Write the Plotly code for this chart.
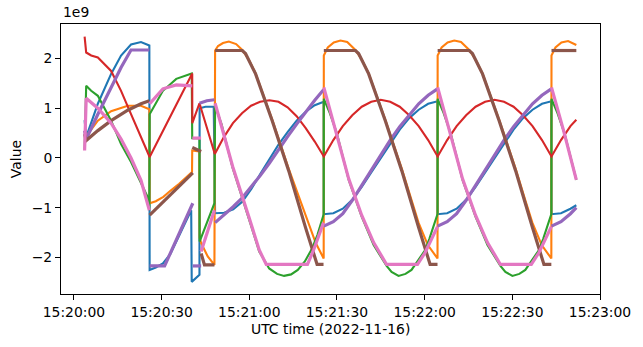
from datetime import datetime, timedelta
import plotly.graph_objects as go

# Sample times are seconds after 15:20:00 UTC; values are in units of 1e9.
# None marks a break in a trace.
BASE = datetime(2022, 11, 16, 15, 20, 0)

blue_t = [3.65, 4.19, 8.18, 12.72, 16.12, 19.53, 22.94, 25.8, 25.9, 28.0, 30.44, 33.0, 36.5, 40.12, 40.3, 42.95, 43.0, 45.0, 47.83, 48.3,
          51.4, 54.5, 57.6, 60.7, 63.8, 66.9, 70.0, 73.1, 76.2, 79.3, 82.4, 85.45,
          85.5, 88.75, 91.99, 95.24, 98.48, 101.73, 104.98, 108.22, 111.47, 114.71, 117.96, 121.2, 124.4,
          124.45, 127.7, 130.94, 134.19, 137.43, 140.68, 143.93, 147.17, 150.42, 153.66, 156.91, 160.15, 163.35,
          163.4, 166.65, 169.89, 171.9]
blue_v = [0.76, 0.42, 1.09, 1.69, 2.06, 2.28, 2.33, 2.26, -2.25, -2.20, -2.12, -1.93, -1.50, -1.05, -2.49, -2.35, 1.00, 1.03, 1.03, -1.11,
          -1.10, -1.03, -0.88, -0.62, -0.32, -0.02, 0.27, 0.52, 0.75, 0.93, 1.06, 1.13,
          -1.13, -1.11, -1.02, -0.84, -0.58, -0.29, 0.00, 0.30, 0.57, 0.80, 0.97, 1.09, 1.14,
          -1.13, -1.11, -1.02, -0.84, -0.58, -0.29, 0.00, 0.30, 0.57, 0.80, 0.97, 1.09, 1.14,
          -1.13, -1.11, -1.02, -0.95]

orange_t = [4.19, 4.77, 8.18, 12.72, 18.41, 22.94, 25.8, 25.9, 28.0, 30.6, 33.0, 36.0, 40.4, 40.47, 42.9, 43.0, 43.53, 45.78, 48.07, 48.3,
            49.3, 51.0, 53.0, 55.5, 57.6, 59.9, 62.15, 67.84, 73.5, 77.05, 79.33, 82.74, 85.45,
            85.5, 86.86, 88.91, 91.19, 93.5, 96.31, 98.55, 100.84, 106.53, 112.2, 115.5, 117.9, 121.1, 124.4,
            124.45, 125.81, 127.86, 130.14, 132.45, 135.26, 137.5, 139.79, 145.48, 151.15, 154.45, 156.85, 160.05, 163.35,
            163.4, 164.76, 166.81, 169.09, 171.9]
orange_v = [0.38, 0.48, 0.75, 0.94, 1.05, 1.05, 0.98, -0.91, -0.87, -0.78, -0.66, -0.52, -0.28, 0.15, 0.13, -1.60, -1.71, -1.98, -2.15, 2.16,
            2.25, 2.31, 2.34, 2.29, 2.17, 1.97, 1.70, 0.77, -0.22, -0.80, -1.18, -1.71, -2.02,
            2.06, 2.22, 2.32, 2.36, 2.33, 2.17, 1.97, 1.70, 0.77, -0.22, -0.85, -1.30, -1.75, -2.02,
            2.06, 2.22, 2.32, 2.36, 2.33, 2.17, 1.97, 1.70, 0.77, -0.22, -0.85, -1.30, -1.75, -2.02,
            2.06, 2.22, 2.32, 2.35, 2.27]

green_t = [3.65, 4.19, 5.9, 8.18, 12.72, 16.12, 19.53, 22.94, 25.2, 25.8, 25.9, 30.44, 35.01, 40.3, 40.47, 42.95, 43.0, 48.07, 48.3,
           50.5, 54.3, 60.0, 63.4, 66.8, 69.5, 71.9, 74.3, 76.6, 79.0, 81.3, 83.3, 85.45,
           85.5, 87.55, 89.93, 94.02, 98.45, 102.55, 106.98, 108.68, 111.07, 113.45, 115.5, 117.89, 120.17, 121.64, 123.0, 124.4,
           124.45, 126.5, 128.88, 132.97, 137.4, 141.5, 145.93, 147.63, 150.02, 152.4, 154.45, 156.84, 159.12, 160.59, 161.95, 163.35,
           163.4, 165.45, 167.83, 171.9]
green_v = [0.18, 1.45, 1.35, 1.25, 0.75, 0.28, -0.08, -0.51, -0.78, -1.05, 0.88, 1.35, 1.59, 1.70, 0.40, 0.40, -1.68, -0.91, 1.05,
           0.68, -0.20, -1.25, -1.88, -2.22, -2.33, -2.37, -2.34, -2.25, -2.08, -1.84, -1.55, -1.13,
           1.19, 0.90, 0.50, -0.44, -1.18, -1.75, -2.17, -2.29, -2.37, -2.33, -2.25, -2.05, -1.85, -1.62, -1.40, -1.13,
           1.19, 0.90, 0.50, -0.44, -1.18, -1.75, -2.17, -2.29, -2.37, -2.33, -2.25, -2.05, -1.85, -1.62, -1.40, -1.13,
           1.19, 0.90, 0.50, -0.44]

red_t = [3.65, 4.19, 5.9, 8.18, 12.72, 16.12, 19.53, 22.94, 25.9, 40.47, 40.5, 42.95, 48.2,
         51.3, 54.4, 57.5, 60.6, 63.7, 66.9, 70.0, 73.1, 76.2, 79.3, 82.4,
         85.5, 88.75, 91.99, 95.24, 98.48, 101.73, 104.98, 108.22, 111.47, 114.71, 117.96, 121.2,
         124.45, 127.7, 130.94, 134.19, 137.43, 140.68, 143.93, 147.17, 150.42, 153.66, 156.91, 160.15,
         163.4, 166.65, 169.89, 171.9]
red_v = [2.44, 2.12, 2.06, 2.02, 1.75, 1.35, 0.88, 0.42, 0.02, 1.70, 0.70, 1.10, 0.08,
         0.42, 0.70, 0.90, 1.05, 1.13, 1.16, 1.13, 1.02, 0.84, 0.60, 0.33,
         0.03, 0.36, 0.64, 0.86, 1.03, 1.13, 1.17, 1.13, 1.03, 0.86, 0.64, 0.36,
         0.03, 0.36, 0.64, 0.86, 1.03, 1.13, 1.17, 1.13, 1.03, 0.86, 0.64, 0.36,
         0.03, 0.36, 0.64, 0.77]

purple_t = [3.65, 4.19, 8.18, 12.72, 16.12, 19.53, 25.8, None, 25.9, 31.02, 40.67, None, 40.67, 43.53, None, 42.95, 45.5, 48.07, None,
            48.3, 51.4, 54.5, 57.6, 60.7, 63.8, 66.9, 70.0, 73.1, 76.2, 79.3, 82.4, 85.4, None,
            85.5, 88.75, 91.99, 95.24, 98.48, 101.73, 104.98, 108.22, 111.47, 114.71, 117.96, 121.2, 124.4, None,
            124.45, 127.7, 130.94, 134.19, 137.43, 140.68, 143.93, 147.17, 150.42, 153.66, 156.91, 160.15, 163.35, None,
            163.4, 166.65, 169.89, 171.9]
purple_v = [0.55, 0.38, 0.88, 1.42, 1.82, 2.17, 2.17, None, -2.17, -2.17, -0.91, None, -2.17, -2.17, None, 1.10, 1.15, 1.17, None,
            -1.30, -1.15, -0.98, -0.80, -0.58, -0.35, -0.10, 0.17, 0.43, 0.68, 0.93, 1.16, 1.37, None,
            -1.37, -1.28, -1.12, -0.85, -0.55, -0.24, 0.06, 0.36, 0.63, 0.87, 1.09, 1.26, 1.39, None,
            -1.37, -1.28, -1.12, -0.85, -0.55, -0.24, 0.06, 0.36, 0.63, 0.87, 1.09, 1.26, 1.39, None,
            -1.37, -1.28, -1.12, -1.00]

brown_t = [3.65, 4.19, 8.18, 12.72, 18.41, 22.94, 25.8, None, 25.9, 40.67, None, 40.5, 43.53, None, 43.53, 44.66, 48.07, None,
           48.3, 57.6, 58.7, 59.9, 62.15, 67.84, 73.5, 79.2, 83.2, 85.4, None,
           85.5, 96.31, 97.4, 98.57, 100.85, 106.54, 112.2, 117.9, 121.87, 124.4, None,
           124.45, 135.26, 136.35, 137.52, 139.8, 145.49, 151.15, 156.85, 160.82, 163.35, None,
           163.4, 171.9]
brown_v = [0.48, 0.35, 0.55, 0.75, 0.96, 1.09, 1.15, None, -1.15, -0.30, None, 0.21, 0.13, None, -1.92, -2.15, -2.15, None,
           2.16, 2.16, 2.10, 1.96, 1.69, 0.75, -0.26, -1.39, -2.14, -2.14, None,
           2.16, 2.16, 2.10, 1.96, 1.69, 0.75, -0.26, -1.39, -2.14, -2.14, None,
           2.16, 2.16, 2.10, 1.96, 1.69, 0.75, -0.26, -1.39, -2.14, -2.14, None,
           2.16, 2.16]

pink_t = [3.65, 4.19, 8.18, 12.72, 16.12, 19.53, 22.94, 25.8, None, 25.9, 30.44, 35.01, 40.5, None, 40.5, 43.5, None, 43.5, 48.07, None,
          48.3, 54.31, 60.0, 63.4, 65.8, 79.9, 82.0, 83.8, 85.4, None,
          85.5, 89.59, 94.02, 98.45, 102.55, 106.98, 117.55, 120.17, 121.64, 123.0, 124.4, None,
          124.45, 128.54, 132.97, 137.4, 141.5, 145.93, 156.5, 159.12, 160.59, 161.95, 163.35, None,
          163.4, 167.49, 171.9]
pink_v = [0.15, 1.20, 1.00, 0.70, 0.38, 0.00, -0.45, -1.05, None, 1.09, 1.39, 1.47, 1.45, None, 0.40, 0.40, None, -1.88, -1.05, None,
          1.10, -0.17, -1.21, -1.85, -2.14, -2.14, -1.85, -1.58, -1.30, None,
          1.42, 0.56, -0.42, -1.15, -1.70, -2.14, -2.14, -1.90, -1.72, -1.55, -1.38, None,
          1.42, 0.56, -0.42, -1.15, -1.70, -2.14, -2.14, -1.90, -1.72, -1.55, -1.38, None,
          1.42, 0.56, -0.44]

x_tick_seconds = [0, 30, 60, 90, 120, 150, 180]
y_tick_values = [-2, -1, 0, 1, 2]

series = [
    (blue_t, blue_v, "#1f77b4", 2.1),
    (orange_t, orange_v, "#ff7f0e", 2.1),
    (green_t, green_v, "#2ca02c", 2.1),
    (red_t, red_v, "#d62728", 2.1),
    (purple_t, purple_v, "#9467bd", 3.2),
    (brown_t, brown_v, "#8c564b", 3.2),
    (pink_t, pink_v, "#e377c2", 3.2),
]


def to_time(seconds):
    return [None if s is None else BASE + timedelta(seconds=s) for s in seconds]


FONT = "DejaVu Sans"
FS = 13.9

fig = go.Figure()
for ts, vs, color, width in series:
    fig.add_trace(go.Scatter(x=to_time(ts), y=vs, mode="lines",
                             line=dict(color=color, width=width),
                             connectgaps=False, showlegend=False))

axis_common = dict(showline=True, linecolor="black", linewidth=1, mirror=True,
                   ticks="outside", ticklen=5, tickwidth=1, tickcolor="black",
                   showgrid=False, zeroline=False,
                   tickfont=dict(family=FONT, size=FS, color="black"))

fig.update_layout(
    width=643, height=347,
    margin=dict(l=61, r=41, t=24, b=53),
    paper_bgcolor="white", plot_bgcolor="white",
    xaxis=dict(type="date",
               range=[BASE - timedelta(seconds=4.43), BASE + timedelta(seconds=180)],
               tickvals=to_time(x_tick_seconds), tickformat="%H:%M:%S",
               **axis_common),
    yaxis=dict(range=[-2.734, 2.693], tickvals=y_tick_values, **axis_common),
    annotations=[
        dict(text="UTC time (2022-11-16)", xref="paper", yref="paper", x=0.5, y=-0.13,
             xanchor="center", yanchor="middle", showarrow=False,
             font=dict(family=FONT, size=FS, color="black")),
        dict(text="Value", xref="paper", yref="paper", x=-0.0832, y=0.5, textangle=-90,
             xanchor="center", yanchor="middle", showarrow=False,
             font=dict(family=FONT, size=FS, color="black")),
        dict(text="1e9", xref="paper", yref="paper", x=0.0, y=1.044,
             xanchor="left", yanchor="middle", showarrow=False,
             font=dict(family=FONT, size=FS, color="black")),
    ],
)

fig.write_html("out.html")
